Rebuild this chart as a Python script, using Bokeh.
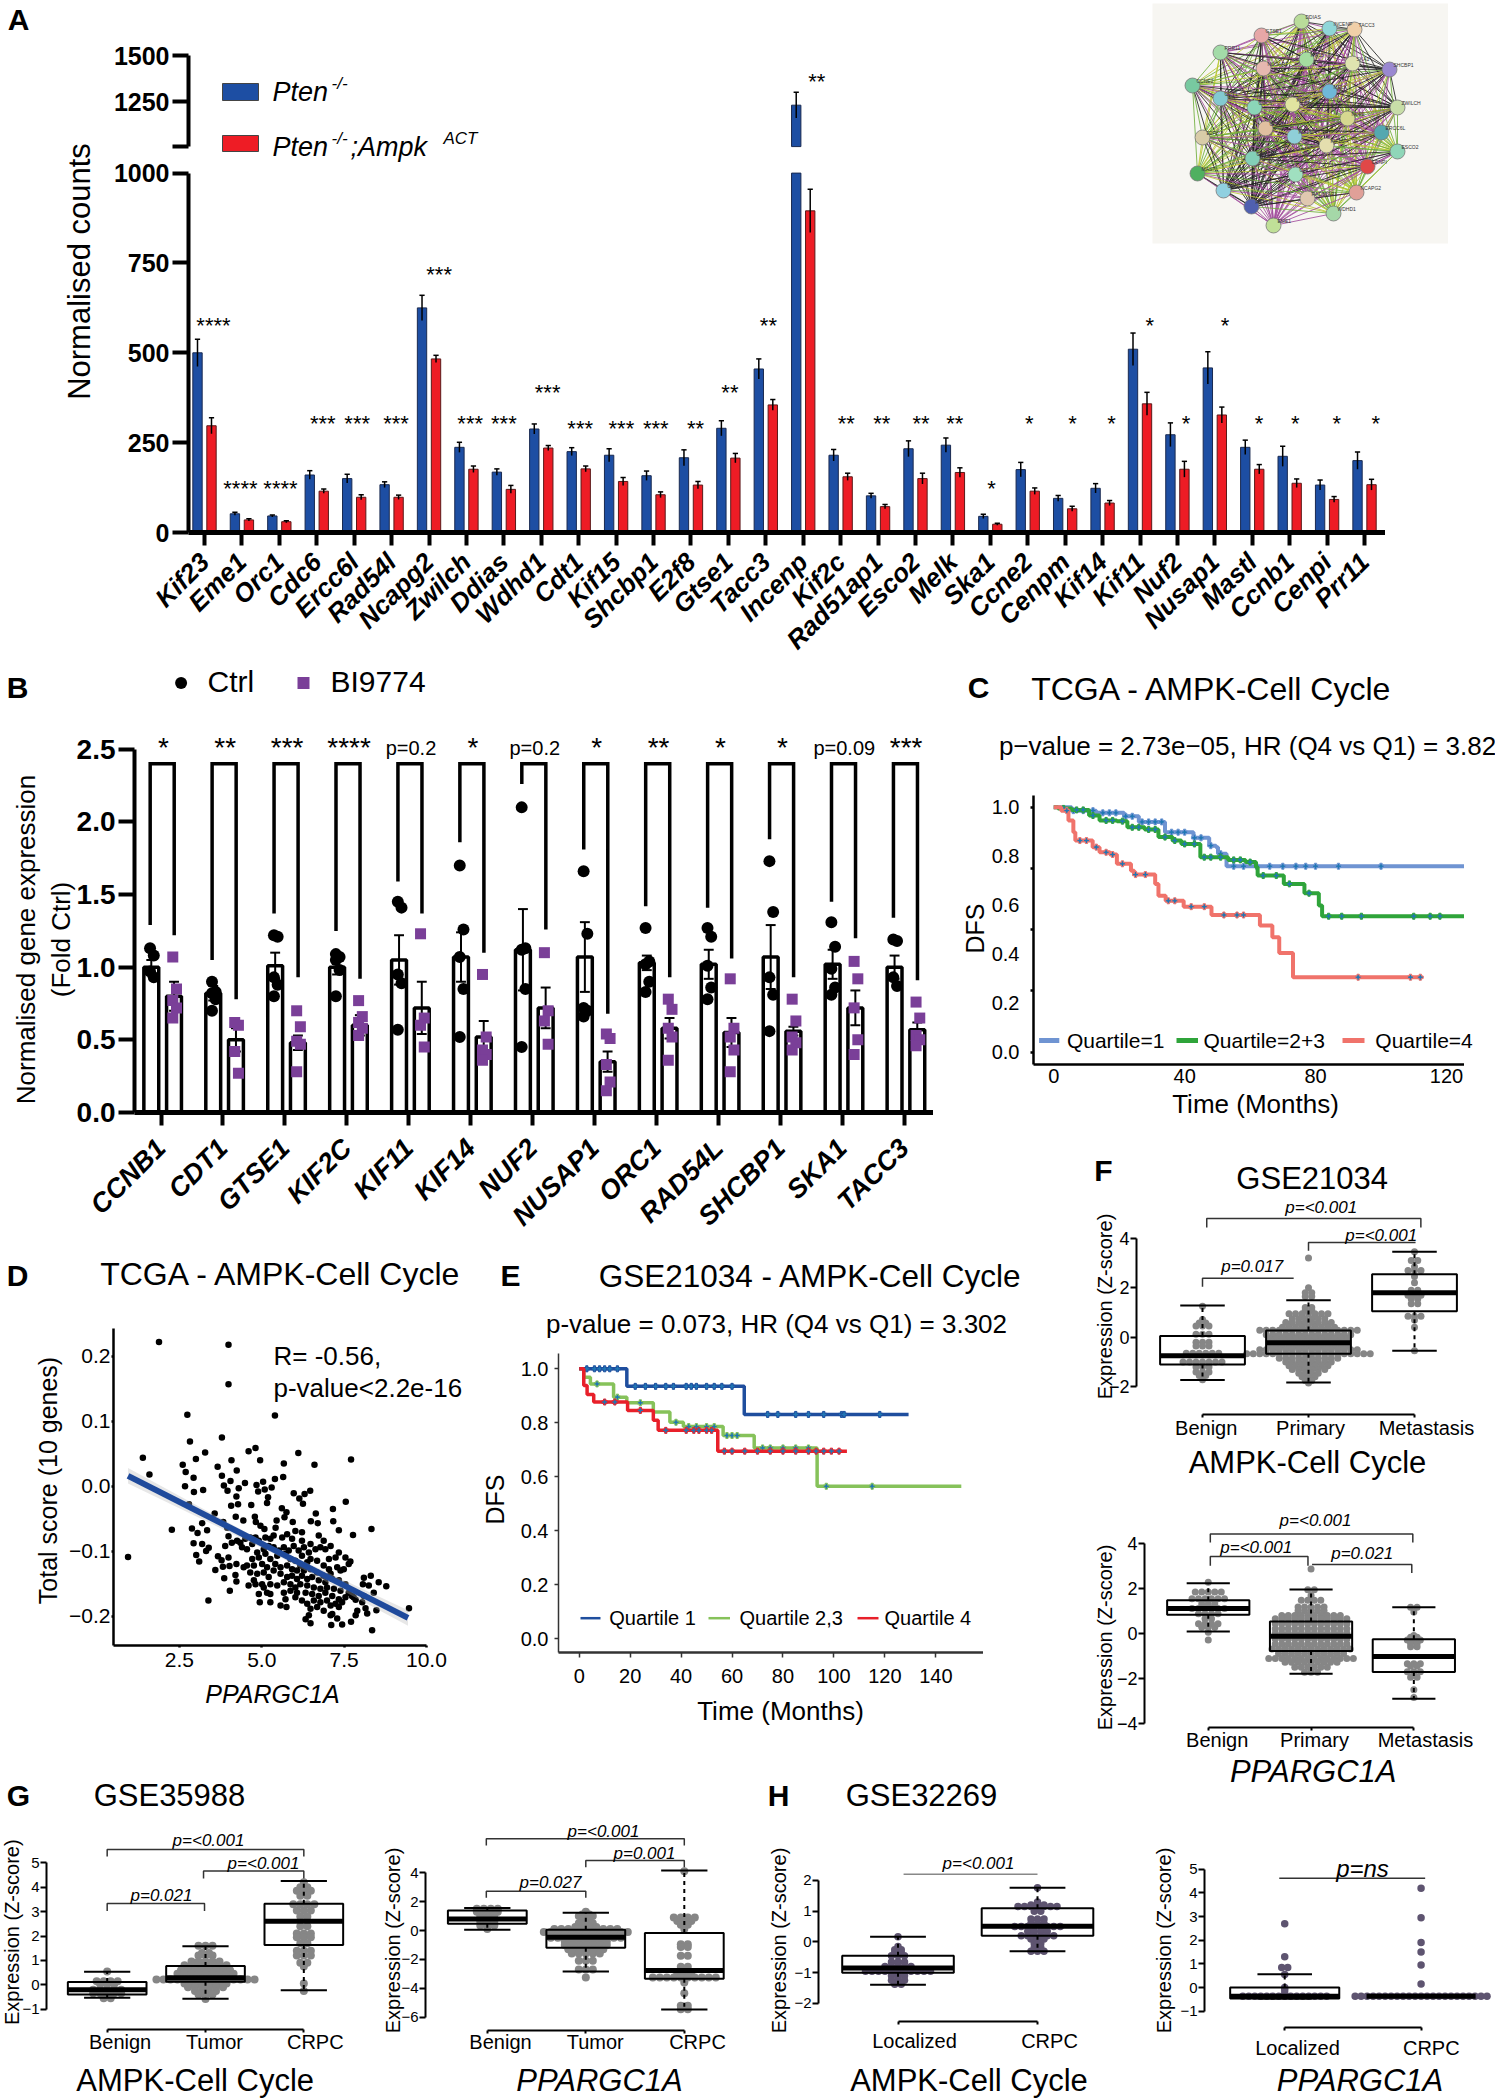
import math
from bokeh.plotting import figure
from bokeh.layouts import column
from bokeh.models import Range1d, LinearAxis, FixedTicker, Label, ColumnDataSource
from bokeh.core.properties import value
from bokeh.embed import file_html
from bokeh.resources import INLINE

FONT = "Liberation Sans"

# ---------------- Panel A data ----------------
genes_a = ["Kif23","Eme1","Orc1","Cdc6","Ercc6l","Rad54l","Ncapg2","Zwilch","Ddias","Wdhd1","Cdt1","Kif15","Shcbp1","E2f8","Gtse1","Tacc3","Incenp","Kif2c","Rad51ap1","Esco2","Melk","Ska1","Ccne2","Cenpm","Kif14","Kif11","Nuf2","Nusap1","Mastl","Ccnb1","Cenpi","Prr11"]
pten = [500,52,46,160,150,133,625,237,168,288,225,215,158,208,290,455,1230,215,102,233,243,45,175,95,123,510,272,458,237,212,132,200]
pten_err = [38,4,3,12,12,8,35,14,9,14,11,18,13,22,21,28,70,16,7,22,20,6,20,8,13,45,33,45,20,28,14,24]
ampk = [297,35,30,115,98,98,483,176,120,235,177,142,105,132,207,355,895,155,72,150,167,23,115,66,82,358,176,327,176,137,92,133]
ampk_err = [22,3,3,6,7,6,10,9,11,7,8,11,8,10,13,15,60,10,6,15,13,3,9,7,7,32,22,22,13,12,8,15]
stars_a = ["****","****","****","***","***","***","***","***","***","***","***","***","***","**","**","**","**","**","**","**","**","*","*","*","*","*","*","*","*","*","*","*"]
stars_a_x = [0.24,0.96,2.03,3.16,4.08,5.12,6.27,7.1,8.0,9.17,10.04,11.14,12.06,13.12,14.04,15.07,16.36,17.15,18.1,19.15,20.05,21.03,22.04,23.2,24.24,25.26,26.23,27.27,28.18,29.15,30.26,31.3]
stars_a_y = [589,137,137,316,316,316,732,316,316,404,304,304,304,304,404,589,1387,316,316,316,316,137,316,316,316,589,316,589,316,316,316,316]

# ---------------- Panel B data ----------------
genes_b = ["CCNB1","CDT1","GTSE1","KIF2C","KIF11","KIF14","NUF2","NUSAP1","ORC1","RAD54L","SHCBP1","SKA1","TACC3"]
ctrl_mean = [1.0,.82,1.01,1.0,1.05,1.07,1.12,1.07,1.03,1.02,1.07,1.02,1.0]
ctrl_err = [.05,.05,.09,.05,.17,.17,.28,.24,.05,.1,.22,.1,.08]
bi_mean = [.8,.5,.48,.6,.72,.52,.72,.35,.58,.55,.56,.72,.57]
bi_err = [.1,.08,.05,.07,.18,.11,.14,.07,.07,.1,.03,.12,.05]
ctrl_pts = [[1.13,1.08,.97,.93],[.90,.83,.82,.78,.70],[1.22,1.21,.93,.88,.80],[1.09,1.07,1.05,.98,.80],[1.45,1.41,.95,.89,.57],[1.70,1.26,1.07,.85,.52],[2.10,1.13,1.12,.85,.45],[1.66,1.23,.72,.70,.66],[1.27,1.04,1.02,.90,.83],[1.27,1.21,1.01,.86,.78],[1.73,1.38,.93,.81,.56],[1.31,1.14,.99,.86,.81],[1.19,1.18,.93,.87]]
bi_pts = [[1.07,.85,.77,.72,.65],[.62,.60,.42,.27],[.70,.59,.49,.47,.28],[.77,.66,.62,.58,.53],[1.23,.65,.60,.45],[.95,.52,.43,.40,.36],[1.10,.70,.63,.47],[.54,.51,.33,.21,.15],[.78,.71,.58,.52,.36],[.92,.58,.52,.43,.28],[.78,.63,.52,.48,.43],[1.04,.92,.72,.50,.40],[.76,.65,.53,.50,.46]]
leg_left = [1.29,1.05,1.37,1.25,1.59,1.86,2.26,1.81,1.42,1.41,1.88,1.45,1.34]
leg_right = [1.22,.78,.93,.92,1.37,1.10,1.26,.68,.93,1.06,.93,1.2,.91]
sig_b = ["*","**","***","****","p=0.2","*","p=0.2","*","**","*","*","p=0.09","***"]

# ---------------- Panel C data ----------------
c_q1_t = [0,5.5,13,21.5,26,34,42.7,47.5,49.6,50.2,52.8,126]
c_q1_s = [1,.986,.977,.963,.94,.898,.875,.843,.837,.81,.759,.759]
c_q2_t = [0,1.3,5.5,10.8,14,19.3,22.5,27.8,32,36.3,39,44.8,53.3,58.6,61.8,62.3,70.3,76.6,81,82,125.5]
c_q2_s = [1,.995,.989,.966,.946,.943,.918,.909,.878,.864,.85,.796,.785,.776,.755,.721,.687,.649,.599,.555,.555]
c_q4_t = [0,2.3,4.5,6,6.6,11.9,14,17.2,19.3,23.6,24.6,31,32,34.2,39.7,48.2,63,66.8,68.9,73.1,112.7]
c_q4_s = [1,.986,.946,.898,.864,.837,.816,.807,.769,.741,.725,.687,.639,.618,.594,.56,.517,.469,.405,.306,.306]
c_q1_cens = [6,9,12,15,17,19,22,24,27,29,31,33,36,38,40,43,45,48,51,55,58,62,66,70,74,77,80,87,100]
c_q2_cens = [3,7,9,12,16,18,21,24,26,29,31,34,37,40,43,46,48,51,55,57,60,64,68,72,78,84,88,94,110,115,118]
c_q4_cens = [4,8,10,13,16,18,21,25,28,35,37,42,46,52,56,58,93,109,112]

# ---------------- Panel D data ----------------
score_pairs = [(1.88,.222),(3.99,.218),(3.99,.157),(2.74,.110),(5.4,.109),(3.79,.075),(2.82,.069),(1.39,.044),(3.28,.052),(3.0,.042),(4.6,.054),(4.81,.059),(4.95,.04),(4.08,.04),(6.11,.051),(7.71,.041),(5.67,.035),(6.6,.033),(2.6,.033),(3.66,.03),(1.59,.018),(2.69,.022),(2.93,.013),(4.24,.024),(3.79,.016),(4.05,.008),(4.49,.005),(5.4,.011),(5.65,.014),(5.04,.007),(4.84,.002),(5.3,-.002),(5.09,-.005),(4.89,-.008),(2.67,0),(2.94,-.009),(3.22,-.006),(3.85,.001),(3.96,-.007),(4.3,-.003),(4.23,-.016),(5.19,-.017),(5.16,-.026),(5.97,-.011),(6.47,-.007),(6.3,-.012),(6.14,-.019),(6.25,-.027),(7.55,-.024),(2.79,-.028),(4.07,-.03),(4.28,-.028),(4.68,-.029),(5.61,-.034),(5.75,-.04),(7.16,-.035),(3.57,-.042),(4.21,-.047),(4.79,-.047),(6.64,-.042),(3.19,-.057),(3.83,-.055),(4.44,-.053),(4.82,-.055),(5.45,-.053),(5.69,-.048),(5.94,-.055),(6.49,-.054),(6.7,-.057),(7.17,-.054),(2.27,-.067),(2.88,-.065),(3.34,-.068),(3.95,-.064),(3.05,-.072),(4.96,-.061),(5.08,-.066),(5.42,-.064),(7.34,-.068),(8.33,-.066),(7.77,-.075),(2.93,-.088),(3.19,-.089),(3.89,-.092),(3.99,-.077),(4.09,-.087),(4.25,-.084),(3.39,-.095),(3.31,-.1),(.94,-.109),(3.01,-.106),(3.1,-.116),(3.67,-.108),(3.78,-.114),(3.99,-.11),(3.59,-.129),(3.82,-.124),(4.02,-.123),(4.23,-.12),(3.86,-.142),(4.2,-.137),(4.23,-.147),(4.03,-.161),(3.38,-.176),
(4.35,-.087),(4.5,-.081),(4.65,-.079),(4.81,-.079),(4.91,-.084),(5.11,-.079),(5.26,-.081),(5.36,-.076),(5.62,-.079),(5.77,-.074),(5.92,-.081),(6.02,-.069),(6.22,-.071),(6.22,-.084),(6.48,-.089),(6.73,-.076),(6.88,-.084),(6.78,-.094),(6.93,-.097),(4.4,-.094),(4.55,-.097),(4.71,-.089),(4.86,-.102),(5.06,-.097),(5.21,-.092),(5.36,-.094),(5.52,-.099),(5.67,-.094),(5.82,-.099),(5.97,-.092),(6.12,-.099),(6.28,-.094),(6.43,-.102),(6.63,-.097),(7.09,-.092),(7.04,-.112),(7.34,-.102),(7.24,-.11),(7.54,-.11),(7.69,-.116),(7.49,-.128),(7.39,-.13),(7.64,-.12),(7.29,-.125),(6.88,-.122),(7.04,-.128),(6.48,-.112),(6.22,-.107),(4.71,-.112),(4.91,-.11),(5.11,-.104),(5.26,-.112),(5.47,-.107),(5.72,-.104),(5.87,-.112),(6.02,-.115),(6.17,-.122),(6.38,-.117),(6.68,-.115),(4.55,-.122),(4.76,-.122),(5.01,-.12),(5.16,-.125),(5.41,-.12),(5.57,-.125),(5.77,-.122),(5.92,-.128),(6.07,-.13),(6.28,-.13),(6.48,-.128),(6.68,-.133),(6.88,-.138),(7.09,-.135),(4.45,-.125),(4.65,-.133),(4.86,-.135),(5.06,-.133),(5.21,-.14),(5.36,-.13),(5.57,-.135),(5.77,-.14),(5.92,-.138),(6.07,-.143),(6.22,-.138),(6.38,-.143),(6.53,-.14),(6.73,-.145),(6.93,-.148),(7.14,-.143),(7.34,-.145),(7.54,-.151),(4.76,-.145),(5.01,-.151),(4.6,-.153),(4.81,-.151),(5.26,-.151),(5.47,-.153),(5.67,-.148),(5.87,-.151),(6.02,-.156),(6.17,-.151),(6.38,-.153),(6.58,-.156),(6.78,-.158),(6.98,-.156),(7.19,-.158),(7.39,-.161),(7.64,-.164),(5.06,-.156),(5.26,-.166),(4.91,-.166),(5.16,-.164),(5.67,-.164),(5.87,-.161),(6.07,-.164),(6.33,-.164),(6.53,-.166),(6.73,-.169),(6.93,-.164),(7.14,-.169),(7.34,-.174),(7.54,-.171),(7.74,-.169),(4.94,-.179),(5.26,-.179),(5.57,-.184),(5.75,-.186),(5.72,-.174),(6.02,-.171),(6.22,-.176),(6.38,-.181),(6.58,-.176),(6.78,-.179),(6.98,-.176),(7.24,-.181),(7.44,-.179),(6.48,-.189),(6.68,-.186),(6.88,-.192),(7.09,-.184),(7.34,-.186),(6.43,-.199),(6.33,-.205),(6.48,-.211),(7.09,-.199),(7.14,-.197),(7.29,-.204),(7.11,-.214),(7.44,-.213),(7.71,-.209),(7.85,-.199),(7.9,-.192),(7.85,-.175),(8.15,-.188),(8.2,-.196),(8.48,-.191),(8.78,-.154),(9.47,-.188),(8.35,-.222),(8.1,-.141),(8.31,-.138),(8.25,-.153),(8.07,-.151),(8.55,-.148),(8.4,-.164),(8.1,-.169),(7.79,-.171),(8.05,-.179)]
fit_x = [.94,9.44]
fit_y = [.016,-.203]

# ---------------- Panel E data ----------------
e_q1_t = [0,18.7,64.8,129.3]
e_q1_s = [1,.935,.831,.831]
e_q2_t = [0,1.8,4.4,13.5,18.7,29.1,35.6,40.9,56.5,68.7,93.4,150]
e_q2_s = [1,.969,.944,.895,.874,.84,.802,.786,.753,.707,.565,.565]
e_q4_t = [0,1.8,3.1,5.7,19,29.1,31,54.4,105.1]
e_q4_s = [1,.938,.905,.877,.846,.809,.772,.695,.695]
e_q1_cens = [3,6,8,10,12,15,22,26,30,34,37,42,44,46,50,53,56,60,74,78,85,90,96,103,104,118]
e_q2_cens = [7,15,24,38,43,46,50,53,58,60,62,72,75,80,85,90,97,115]
e_q4_cens = [10,14,24,34,42,45,47,50,52,57,60,65,70,75,80,85,90,93,96,99,102]

# ---------------- Panels F, G, H data: rows are (value, number of dots at that value) ----------------
f1_groups = ["Benign","Primary","Metastasis"]
f1_box = [(-1.1,-.75,.05,-1.73,1.28),(-.67,-.22,.27,-1.83,1.5),(1.05,1.8,2.55,-.55,3.45)]
f1_rows = [[(1.25,1),(.72,1),(.58,2),(.45,3),(.12,3),(-.2,3),(-.35,3),(-.65,6),(-1.0,7),(-1.2,3),(-1.4,3),(-1.55,2),(-1.72,1)],
           [(3.2,1),(2.0,1),(1.8,2),(1.65,2),(1.2,2),(1.1,2),(.95,7),(.75,6),(.6,8),(.4,9),(.28,16),(.1,14),(-.05,13),(-.2,12),(-.35,13),(-.5,16),(-.67,20),(-.85,10),(-1.0,8),(-1.15,7),(-1.3,6),(-1.45,4),(-1.6,3),(-1.75,2),(-1.85,1)],
           [(3.45,1),(3.1,2),(2.85,1),(2.7,3),(2.45,1),(2.2,1),(1.9,2),(1.7,3),(1.55,2),(1.35,2),(.85,3),(.7,1),(.4,1),(-.55,1)]]
f2_box = [(.82,1.1,1.47,.08,2.22),(-.78,-.13,.52,-1.79,1.94),(-1.72,-1.03,-.26,-2.9,1.15)]
f2_rows = [[(2.26,1),(1.83,5),(1.53,6),(1.3,3),(1.1,6),(.87,4),(.64,2),(.42,4),(.27,3),(.05,1),(-.3,1)],
           [(2.85,1),(1.93,2),(1.68,1),(1.47,4),(1.17,5),(1.0,5),(.79,10),(.64,12),(.42,12),(.2,12),(0,12),(-.25,12),(-.47,12),(-.7,13),(-.9,11),(-1.12,14),(-1.28,9),(-1.5,6),(-1.73,3)],
           [(1.15,2),(.95,1),(-.1,1),(-.18,2),(-.3,3),(-.45,2),(-.6,2),(-1.35,3),(-1.45,2),(-1.7,3),(-1.85,1),(-1.95,2),(-2.5,1),(-2.85,1)]]
g_groups = ["Benign","Tumor","CRPC"]
g1_box = [(-.4,-.2,.11,-.53,.53),(.12,.29,.77,-.57,1.58),(1.63,2.6,3.32,-.22,4.25)]
g1_rows = [[(.55,1),(.15,4),(.02,3),(-.2,5),(-.35,5),(-.45,2),(-.55,2)],
           [(1.6,3),(1.3,2),(1.2,3),(.95,5),(.8,7),(.6,8),(.45,9),(.22,15),(.05,7),(-.1,6),(-.25,4),(-.4,3),(-.58,1)],
           [(4.2,1),(4.0,2),(3.85,3),(3.65,2),(3.3,4),(3.05,3),(2.8,2),(2.4,2),(2.1,3),(1.95,3),(1.7,2),(1.4,3),(1.2,3),(.9,2),(.75,1),(.05,1),(-.25,1)]]
g2_box = [(.46,.8,1.38,.05,1.55),(-1.2,-.46,.05,-2.83,1.22),(-3.34,-2.76,-.18,-5.46,4.15)]
g2_rows = [[(1.5,4),(1.3,4),(1.05,3),(.85,3),(.6,3),(.35,3),(.1,1)],
           [(1.3,1),(1.1,2),(1.0,3),(.75,2),(.5,3),(.25,4),(.1,10),(-.1,13),(-.3,11),(-.5,11),(-.75,7),(-1.0,7),(-1.3,6),(-1.6,5),(-2.1,3),(-2.7,3),(-3.25,1)],
           [(4.1,1),(.9,4),(.65,3),(.4,2),(.1,1),(-.95,2),(-1.15,2),(-1.75,2),(-2.5,2),(-3.0,3),(-3.25,10),(-3.6,1),(-4.35,1),(-5.2,2),(-5.45,2)]]
h_groups = ["Localized","CRPC"]
h1_box = [(-1,-.85,-.45,-1.39,.17),(.2,.51,1.1,-.3,1.76)]
h1_rows = [[(.17,1),(-.15,1),(-.25,2),(-.35,2),(-.45,3),(-.65,3),(-.8,5),(-.95,11),(-1.1,3),(-1.25,3),(-1.38,2)],
           [(1.76,1),(1.3,1),(1.2,3),(1.15,7),(1.0,2),(.75,3),(.6,3),(.5,8),(.35,4),(.2,6),(.1,3),(-.05,2),(-.18,2),(-.3,3)]]
h2_box = [(-.46,-.37,0,-.46,.56),(-.37,-.37,-.37,-.37,-.37)]
h2_rows = [[(2.7,1),(1.3,1),(.85,2),(.55,1),(0,1),(-.1,1),(-.25,1),(-.37,15)],
           [(4.2,1),(2.95,1),(1.9,1),(1.5,1),(.95,1),(.15,1),(-.37,23)]]

# String network (inset of panel A): node label, x, y on the picture, colour
net_nodes = [("DDIAS",1301,21,"#b9dc9a"),("INCENP",1329,28,"#8fd6d8"),("TACC3",1354,29,"#f0cfa8"),("GTSE1",1261,35,"#e6a7a7"),("PRR11",1220,52,"#a3dba8"),("KIF15",1306,59,"#a5dca0"),("NUSAP1",1263,68,"#e6b8b0"),("SKA1",1352,63,"#dfe3b0"),("SHCBP1",1389,69,"#9a88d0"),("CCNE2",1192,85,"#78c9a0"),("MELK",1329,91,"#6fb8d8"),("CDT1",1220,98,"#83c9d0"),("CDC6",1254,107,"#8bd6b8"),("KIF23",1292,104,"#e0e4a0"),("ZWILCH",1397,107,"#c8dea8"),("NUF2",1347,118,"#d6d890"),("ERCC6L",1381,132,"#55a8b0"),("CCNB1",1265,128,"#e0c0a0"),("E2F8",1202,137,"#d8cca8"),("KIF11",1294,136,"#8fcfd8"),("KIF2C",1326,145,"#e4deae"),("ESCO2",1397,151,"#8fd6b8"),("CENPI",1367,166,"#e04848"),("CENPM",1252,158,"#83cfb8"),("MASTL",1197,173,"#4fb060"),("ORC1",1295,174,"#a0e0c0"),("CCNF",1223,190,"#90d0e0"),("NCAPG2",1356,192,"#e0a098"),("RAD51AP1",1307,198,"#e0c8b0"),("RAD54L",1251,206,"#5060b0"),("WDHD1",1333,213,"#a5d8a8"),("EME1",1273,225,"#c0e098")]
net_edge_colors = ["#b8c832","#a24d9e","#222222","#6fae3c","#a24d9e","#222222"]

figs = []
PT, PR, PB, PL = 20, 0, 170, 110   # every panel has the same borders, as a column lines up plot frames

def panel(x0, x1, y0, y1, xr, yr):
    x0, x1, y0, y1 = round(x0), round(x1), round(y0), round(y1)
    fw, fh = x1 - x0, y1 - y0
    top = y0 - PT
    left = x0 - PL
    total_h = fh + PT + PB
    f = figure(frame_width=fw, frame_height=fh, x_range=Range1d(*xr), y_range=Range1d(*yr),
               toolbar_location=None, output_backend="svg", x_axis_location=None, y_axis_location=None,
               min_border_left=PL, min_border_right=PR, min_border_top=PT, min_border_bottom=PB,
               background_fill_color=None, border_fill_color=None, outline_line_color=None,
               margin=(top, 0, -(top + total_h), left))
    f.xgrid.visible = False
    f.ygrid.visible = False
    figs.append(f)
    return f

def axis(f, side, ticks, overrides=None, bounds=None, size=20, style="normal", lw=2, tlen=5, tw=None,
         standoff=2, color="black", orientation=None, minor=None, minor_len=0):
    ax = LinearAxis(ticker=FixedTicker(ticks=list(ticks), minor_ticks=list(minor or [])))
    ax.axis_line_width = lw
    ax.axis_line_color = color
    ax.major_tick_line_color = color
    ax.major_tick_line_width = tw if tw is not None else lw
    ax.major_tick_out = tlen
    ax.major_tick_in = 0
    ax.minor_tick_out = minor_len
    ax.minor_tick_in = 0
    ax.minor_tick_line_width = lw
    ax.minor_tick_line_color = color if minor else None
    ax.major_label_text_font = FONT
    ax.major_label_text_font_size = f"{size}px"
    ax.major_label_text_font_style = style
    ax.major_label_standoff = standoff
    ax.major_label_text_color = "black"
    if overrides:
        ax.major_label_overrides = overrides
    if bounds:
        ax.bounds = bounds
    if orientation is not None:
        ax.major_label_orientation = orientation
    f.add_layout(ax, side)
    return ax

# ---------- Inset network ----------
p_net = panel(1152, 1448, 3, 243, (1152, 1448), (243, 3))
p_net.background_fill_color = "#f7f6f2"
ex0, ey0, ex1, ey1, ec = [], [], [], [], []
for i, a in enumerate(net_nodes):
    for j, b in enumerate(net_nodes):
        if j > i:
            ex0.append(a[1]); ey0.append(a[2]); ex1.append(b[1]); ey1.append(b[2])
            ec.append(net_edge_colors[(i * 3 + j) % len(net_edge_colors)])
p_net.segment(ex0, ey0, ex1, ey1, line_color=ec, line_width=1.0, line_alpha=0.85)
p_net.scatter([n[1] for n in net_nodes], [n[2] for n in net_nodes], size=15,
              fill_color=[n[3] for n in net_nodes], line_color="#777777", line_width=0.8)
p_net.text([n[1] + 4 for n in net_nodes], [n[2] - 5 for n in net_nodes], [n[0] for n in net_nodes],
           text_font=value(FONT), text_font_size="5px", text_color="#333333", text_baseline="middle")

# ---------- Panel A ----------
A_L, A_R, A_T, A_B = 188, 1385, 55, 532
a_x = ((A_L - 204) / 37.42, (A_R - 204) / 37.42)
a_low = (0, (A_B - A_T) / 0.3594)
a_up = (1500 - (A_B - A_T) / 0.184, 1500)
BLUE, RED = "#1d4ea3", "#ee1c25"
W, D = 0.25, 0.187
idx = list(range(len(genes_a)))

pa_up = panel(A_L, A_R, A_T, A_B, a_x, a_up)
axis(pa_up, "left", [1005, 1250, 1500], {1005: "", 1250: "1250", 1500: "1500"}, bounds=(1005, 1500),
     size=25, style="bold", lw=4, tlen=16, tw=4, standoff=3)
tall = [i for i in idx if pten[i] > 1005]
pa_up.vbar([i - D for i in tall], W, bottom=1005, top=[pten[i] for i in tall], fill_color=BLUE, line_color="#1a2a50", line_width=1)
pa_up.segment([i - D for i in tall], [pten[i] - pten_err[i] for i in tall], [i - D for i in tall], [pten[i] + pten_err[i] for i in tall], line_color="black", line_width=1.5)
pa_up.segment([i - D - .07 for i in tall], [pten[i] + pten_err[i] for i in tall], [i - D + .07 for i in tall], [pten[i] + pten_err[i] for i in tall], line_color="black", line_width=1.5)
pa_up.text([16.36], [1387], ["**"], text_font=value(FONT), text_font_size="22px", text_align="center", text_baseline="middle", y_offset=5)

pa = panel(A_L, A_R, A_T, A_B, a_x, a_low)
axis(pa, "left", [0, 250, 500, 750, 1000], {0: "0", 250: "250", 500: "500", 750: "750", 1000: "1000"}, bounds=(0, 1000),
     size=25, style="bold", lw=4, tlen=16, tw=4, standoff=3)
axis(pa, "below", idx, {i: g for i, g in enumerate(genes_a)}, size=26, style="bold italic", lw=5, tlen=13, tw=4,
     standoff=12, orientation=math.pi / 4)
pa.vbar([i - D for i in idx], W, bottom=0, top=[min(v, 1000) for v in pten], fill_color=BLUE, line_color="#1a2a50", line_width=1)
pa.vbar([i + D for i in idx], W, bottom=0, top=ampk, fill_color=RED, line_color="#5a1a1a", line_width=1)
low = [i for i in idx if pten[i] <= 1000]
for xs, vs, es, ii in (([i - D for i in low], pten, pten_err, low), ([i + D for i in idx], ampk, ampk_err, idx)):
    pa.segment(xs, [vs[i] - es[i] for i in ii], xs, [vs[i] + es[i] for i in ii], line_color="black", line_width=1.5)
    pa.segment([x - .07 for x in xs], [vs[i] + es[i] for i in ii], [x + .07 for x in xs], [vs[i] + es[i] for i in ii], line_color="black", line_width=1.5)
keep = [k for k in idx if stars_a_y[k] <= 1000]
pa.text([stars_a_x[k] for k in keep], [stars_a_y[k] for k in keep], [stars_a[k] for k in keep],
        text_font=value(FONT), text_font_size="22px", text_align="center", text_baseline="middle", y_offset=5)

# ---------- Panel B ----------
B_L, B_R, B_T, B_B = 134.5, 933, 720, 1112
b_step = 61.9
pb = panel(B_L, B_R, B_T, B_B, ((B_L - 161) / b_step, (B_R - 161) / b_step), (0, (B_B - B_T) / 145.3))
axis(pb, "left", [0, .5, 1, 1.5, 2, 2.5], {0: "0.0", .5: "0.5", 1: "1.0", 1.5: "1.5", 2: "2.0", 2.5: "2.5"}, bounds=(0, 2.5),
     size=28, style="bold", lw=4, tlen=16, tw=4, standoff=3)
ib = list(range(len(genes_b)))
axis(pb, "below", ib, {i: g for i, g in enumerate(genes_b)}, size=27, style="bold italic", lw=5, tlen=13, tw=4, standoff=18, orientation=math.pi / 4)
OFF_C, OFF_B = -0.157, 0.21
BW = 0.24
PURPLE = "#7a3f98"
for off, mean, err in ((OFF_C, ctrl_mean, ctrl_err), (OFF_B, bi_mean, bi_err)):
    xs = [i + off for i in ib]
    pb.vbar(xs, BW, bottom=0, top=mean, fill_color=None, line_color="black", line_width=3.5)
    pb.segment(xs, [m - e for m, e in zip(mean, err)], xs, [m + e for m, e in zip(mean, err)], line_color="black", line_width=2)
    pb.segment([x - .08 for x in xs], [m + e for m, e in zip(mean, err)], [x + .08 for x in xs], [m + e for m, e in zip(mean, err)], line_color="black", line_width=2)
    pb.segment([x - .08 for x in xs], [m - e for m, e in zip(mean, err)], [x + .08 for x in xs], [m - e for m, e in zip(mean, err)], line_color="black", line_width=2)
cx, cy, bx, by = [], [], [], []
for i in ib:
    for k, v in enumerate(ctrl_pts[i]):
        cx.append(i + OFF_C + (.04 if k % 2 else -.02)); cy.append(v)
    for k, v in enumerate(bi_pts[i]):
        bx.append(i + OFF_B + (.04 if k % 2 else -.02)); by.append(v)
pb.scatter(cx, cy, size=12, marker="circle", fill_color="black", line_color=None)
pb.scatter(bx, by, size=11, marker="square", fill_color=PURPLE, line_color=None)
xsl, ysl = [], []
for i in ib:
    xsl.append([i - .175, i - .175, i + .213, i + .213]); ysl.append([leg_left[i], 2.40, 2.40, leg_right[i]])
pb.multi_line(xsl, ysl, line_color="black", line_width=3.5, line_join="miter")

# ---------- Panel C ----------
C_L, C_R, C_T, C_B = 1033.4, 1464, 795, 1064
cy0, cu = 1051.7, 245.0  # pixel of DFS 0 and pixels per unit
cx0, cm = 1053.6, 3.27
pc = panel(C_L, C_R, C_T, C_B, ((C_L - cx0) / cm, (C_R - cx0) / cm), ((cy0 - C_B) / cu, (cy0 - C_T) / cu))
axis(pc, "left", [0, .2, .4, .6, .8, 1], {0: "0.0", .2: "0.2", .4: "0.4", .6: "0.6", .8: "0.8", 1: "1.0"}, size=20, lw=2.5, tlen=0, standoff=11, minor=[0, .25, .5, .75, 1], minor_len=3)
axis(pc, "below", [0, 40, 80, 120], {0: "0", 40: "40", 80: "80", 120: "120"}, size=20, lw=2.5, tlen=0, standoff=4)

def km(f, t, s, cens, color, width):
    f.step(t, s, mode="after", line_color=color, line_width=width)
    ys = []
    for c in cens:
        v = s[0]
        for a, b in zip(t, s):
            if a <= c:
                v = b
        ys.append(v)
    f.scatter(cens, ys, marker="plus", size=6, line_color=color, line_width=1)

C1, C2, C3 = "#6f94d2", "#2fa43a", "#f0736b"
km(pc, c_q1_t, c_q1_s, c_q1_cens, C1, 4)
km(pc, c_q2_t, c_q2_s, c_q2_cens, C2, 4)
km(pc, c_q4_t, c_q4_s, c_q4_cens, C3, 4)

# ---------- Panel D ----------
D_L, D_R, D_T, D_B = 113.4, 460, 1328, 1645
dy0, du = 1485.7, 649.0
dx0, dm = 97.0, 32.9
pd = panel(D_L, D_R, D_T, D_B, ((D_L - dx0) / dm, (D_R - dx0) / dm), ((dy0 - D_B) / du, (dy0 - D_T) / du))
axis(pd, "left", [-.2, -.1, 0, .1, .2], {-.2: "\u22120.2", -.1: "\u22120.1", 0: "0.0", .1: "0.1", .2: "0.2"}, size=21, lw=2.5, tlen=2, standoff=1)
axis(pd, "below", [2.5, 5, 7.5, 10], {2.5: "2.5", 5: "5.0", 7.5: "7.5", 10: "10.0"}, bounds=((D_L - dx0) / dm, 10), size=21, lw=2.5, tlen=2, standoff=5)
pd.scatter([p[0] for p in score_pairs], [p[1] for p in score_pairs], size=6.5, fill_color="black", line_color=None)
pd.varea([fit_x[0], 5.4, fit_x[1]], [fit_y[0] - .012, -.1 - .005, fit_y[1] - .012], [fit_y[0] + .012, -.1 + .005, fit_y[1] + .012], fill_color="#bbbbbb", fill_alpha=0.35)
pd.line(fit_x, fit_y, line_color="#1f4a9c", line_width=6)

# ---------- Panel E ----------
E_L, E_R, E_T, E_B = 558.3, 983.4, 1353, 1652
ey00, eu = 1638.3, 270.0
ex00, em = 579.0, 2.548
pe = panel(E_L, E_R, E_T, E_B, ((E_L - ex00) / em, (E_R - ex00) / em), ((ey00 - E_B) / eu, (ey00 - E_T) / eu))
axis(pe, "left", [0, .2, .4, .6, .8, 1], {0: "0.0", .2: "0.2", .4: "0.4", .6: "0.6", .8: "0.8", 1: "1.0"}, size=20, lw=1.5, tlen=4, standoff=6, color="#333333")
axis(pe, "below", list(range(0, 141, 20)), {v: str(v) for v in range(0, 141, 20)}, size=20, lw=2.5, tlen=5, tw=1.5, standoff=11, color="#333333")
E1, E2, E3 = "#1f4e9e", "#86c25a", "#e8202a"
km(pe, e_q2_t, e_q2_s, e_q2_cens, E2, 3.5)
km(pe, e_q1_t, e_q1_s, e_q1_cens, E1, 3.5)
km(pe, e_q4_t, e_q4_s, e_q4_cens, E3, 3.5)

# ---------- Box + swarm panels ----------
def box_panel(ax_x, right, top, bottom, y0, u, c1, step, yticks, box, rows, brackets, dot, dot_color, sp, cap, tick_size, box_w=0.8):
    xlo = 1 + (ax_x - c1) / step
    xhi = 1 + (right - c1) / step
    f = panel(ax_x, right, top, bottom, (xlo, xhi), ((y0 - bottom) / u, (y0 - top) / u))
    ov = {t: (f"\u2212{abs(t)}" if t < 0 else str(t)) for t in yticks}
    axis(f, "left", yticks, ov, bounds=(min(yticks), max(yticks)), size=tick_size, lw=2, tlen=6, standoff=1)
    n = len(box)
    axis(f, "below", list(range(1, n + 1)), {i: "" for i in range(1, n + 1)}, bounds=(1, n), size=2, lw=2, tlen=3, standoff=0)
    dx, dy = [], []
    for g, rr in enumerate(rows):
        for v, k in rr:
            for j in range(k):
                dx.append(g + 1 + (j - (k - 1) / 2) * sp / step)
                dy.append(v)
    f.scatter(dx, dy, size=dot, fill_color=dot_color, line_color=None)
    xs = list(range(1, n + 1))
    q1, med, q3, lo, hi = zip(*box)
    f.segment(xs, q3, xs, hi, line_color="black", line_width=2, line_dash="4 4")
    f.segment(xs, q1, xs, lo, line_color="black", line_width=2, line_dash="4 4")
    capx0 = [x - cap for x in xs]
    capx1 = [x + cap for x in xs]
    f.segment(capx0, hi, capx1, hi, line_color="black", line_width=2)
    f.segment(capx0, lo, capx1, lo, line_color="black", line_width=2)
    bx = [i for i in range(n) if q3[i] != q1[i]]
    f.quad(left=[xs[i] - box_w / 2 for i in bx], right=[xs[i] + box_w / 2 for i in bx], bottom=[q1[i] for i in bx], top=[q3[i] for i in bx],
           fill_color=None, line_color="black", line_width=2)
    f.segment([x - box_w / 2 for x in xs], med, [x + box_w / 2 for x in xs], med, line_color="black", line_width=5)
    for (x0, x1, yy, l0, l1, col) in brackets:
        f.line([x0, x0, x1, x1], [l0, yy, yy, l1], line_color=col, line_width=1.5)
    return f

BK = "#333333"
box_panel(1136, 1480, 1205, 1413.6, 1336.5, 24.7, 1202, 106, [-2, 0, 2, 4], f1_box, f1_rows,
          [(1.04, 3.06, 4.80, 4.43, 4.43, BK), (2.0, 3.01, 3.83, 3.50, 3.83, BK), (1.0, 1.86, 2.38, 2.04, 2.38, BK)],
          7, "#868686", 6.5, .21, 18)
box_panel(1144.3, 1480, 1525, 1727, 1632.8, 22.55, 1208, 102.7, [-4, -2, 0, 2, 4], f2_box, f2_rows,
          [(1.02, 2.99, 4.40, 4.03, 4.03, BK), (1.02, 1.97, 3.41, 3.0, 3.0, BK), (2.01, 2.98, 3.05, 3.05, 2.67, BK)],
          7, "#868686", 6.5, .21, 18)
box_panel(46.4, 360, 1830, 2029, 1984.3, 24.4, 107, 98.2, [-1, 0, 1, 2, 3, 4, 5], g1_box, g1_rows,
          [(1, 3.0, 5.55, 5.26, 5.26, BK), (1.98, 3.0, 4.66, 4.36, 4.36, BK), (1, 1.99, 3.33, 3.02, 3.02, BK)],
          8, "#868686", 7, .235, 15)
box_panel(425, 740, 1830, 2030, 1930, 14.45, 486.8, 98.5, [-6, -4, -2, 0, 2, 4], g2_box, g2_rows,
          [(.99, 3.0, 6.35, 5.88, 5.88, BK), (2.0, 3.0, 4.84, 4.38, 4.38, BK), (.99, 2.0, 2.72, 2.26, 2.26, BK)],
          8, "#868686", 7, .235, 15)
box_panel(818, 1110, 1862, 2020.7, 1941.3, 30.67, 897.5, 139.5, [-2, -1, 0, 1, 2], h1_box, h1_rows,
          [(1.04, 2.0, 2.2, 2.2, 2.2, "#888888")], 7.5, "#5e5470", 6.5, .2, 15)
box_panel(1203.7, 1495, 1862, 2027.3, 1987.3, 23.7, 1284, 136.5, [-1, 0, 1, 2, 3, 4, 5], h2_box, h2_rows,
          [(.96, 2.03, 4.62, 4.62, 4.62, BK)], 7.5, "#5e5470", 6.0, .2, 15)

# ---------- Page-wide layers for titles, axis titles and legends ----------
def layer(x0, x1, bottom_net):
    f = figure(frame_width=x1 - x0, frame_height=2100, x_range=Range1d(x0, x1), y_range=Range1d(2100, 0),
               toolbar_location=None, output_backend="svg", x_axis_location=None, y_axis_location=None,
               min_border_left=PL, min_border_right=PR, min_border_top=0, min_border_bottom=0,
               background_fill_color=None, border_fill_color=None, outline_line_color=None,
               margin=(0, 0, bottom_net, x0 - PL))
    f.xgrid.visible = False
    f.ygrid.visible = False
    return f

ov_left = layer(0, 700, -2100)   # left half of the page: its frame reaches the page edge
ov = layer(PL, 1495, 0)          # the rest of the page
figs.append(ov_left)

def T(x, y, text, size, style="normal", angle=0, align="center", color="black"):
    target = ov_left if x < 500 else ov
    target.add_layout(Label(x=x, y=y, text=text, text_font=FONT, text_font_size=f"{size}px", text_font_style=style,
                            text_align=align, text_baseline="middle", angle=angle, angle_units="deg", text_color=color))

# panel letters
for ch, x, y in [("A", 18, 19), ("B", 17, 687), ("C", 978, 687), ("D", 17, 1275), ("E", 510, 1275), ("F", 1103, 1170), ("G", 18, 1795), ("H", 778, 1795)]:
    T(x, y, ch, 30, "bold")

# A
ov.quad(left=[222, 222], right=[258, 258], top=[83, 135], bottom=[100, 151], fill_color=[BLUE, RED], line_color="#444444", line_width=1)
T(272, 91, "Pten", 27, "italic", align="left")
T(331, 83, "-/-", 17, "italic", align="left")
T(272, 146, "Pten", 27, "italic", align="left")
T(331, 138, "-/-", 17, "italic", align="left")
T(350, 146, ";Ampk", 27, "italic", align="left")
T(443, 138, "ACT", 17, "italic", align="left")
T(79, 271, "Normalised counts", 31, angle=90)

# B
ov.scatter([180.6], [682.5], size=12, fill_color="black", line_color=None)
ov.scatter([303], [682.5], size=12, marker="square", fill_color=PURPLE, line_color=None)
T(207, 681, "Ctrl", 30, align="left")
T(330, 681, "BI9774", 30, align="left")
T(25, 939, "Normalised gene expression", 26, angle=90)
T(60, 939, "(Fold Ctrl)", 26, angle=90)
for i, s in enumerate(sig_b):
    px = 161 + b_step * (i + .03)
    if s.startswith("p"):
        T(px, 747.6, s, 20)
    else:
        T(px, 747, s, 28)

# C
T(1212, 688, "TCGA - AMPK-Cell Cycle", 32)
T(1247, 745, "p\u2212value = 2.73e\u221205, HR (Q4 vs Q1) = 3.82", 26)
T(974, 928, "DFS", 25, angle=90)
T(1255, 1103, "Time (Months)", 26)
ov.line([1038.6, 1058.8], [1040, 1040], line_color=C1, line_width=5)
ov.line([1176, 1197.5], [1040, 1040], line_color=C2, line_width=5)
ov.line([1342, 1364], [1040, 1040], line_color=C3, line_width=5)
T(1066.4, 1040, "Quartile=1", 21, align="left")
T(1203, 1040, "Quartile=2+3", 21, align="left")
T(1374.8, 1040, "Quartile=4", 21, align="left")

# D
T(281, 1273, "TCGA - AMPK-Cell Cycle", 32)
T(47.7, 1480, "Total score (10 genes)", 25, angle=90)
T(272, 1693, "PPARGC1A", 25, "italic")
T(273, 1355, "R= -0.56,", 26, align="left")
T(273, 1387, "p-value<2.2e-16", 26, align="left")

# E
T(810, 1275, "GSE21034 - AMPK-Cell Cycle", 31.5)
T(776, 1323, "p-value = 0.073, HR (Q4 vs Q1) = 3.302", 26)
T(494, 1499, "DFS", 25, angle=90)
T(780, 1710, "Time (Months)", 26)
ov.line([580, 600], [1617.7, 1617.7], line_color=E1, line_width=2.5)
ov.line([708, 729.5], [1617.7, 1617.7], line_color=E2, line_width=2.5)
ov.line([857, 878], [1617.7, 1617.7], line_color=E3, line_width=2.5)
T(608.7, 1617.7, "Quartile 1", 20, align="left")
T(739, 1617.7, "Quartile 2,3", 20, align="left")
T(884, 1617.7, "Quartile 4", 20, align="left")

# F
T(1311.7, 1178, "GSE21034", 31)
T(1104, 1306, "Expression (Z-score)", 20, angle=90)
for lab, x in zip(f1_groups, [1205.7, 1310, 1426]):
    T(x, 1427.5, lab, 20)
T(1307, 1462, "AMPK-Cell Cycle", 31)
T(1320.7, 1207, "p=<0.001", 17, "italic")
T(1380.7, 1234.7, "p=<0.001", 17, "italic")
T(1251.7, 1266, "p=0.017", 17, "italic")
T(1104, 1637, "Expression (Z-score)", 20, angle=90)
for lab, x in zip(f1_groups, [1216.7, 1314, 1425]):
    T(x, 1739.8, lab, 20)
T(1312.7, 1771, "PPARGC1A", 31, "italic")
T(1315, 1520, "p=<0.001", 17, "italic")
T(1255.7, 1547, "p=<0.001", 17, "italic")
T(1361.7, 1553, "p=0.021", 17, "italic")

# G
T(169, 1795, "GSE35988", 31)
T(11, 1931.7, "Expression (Z-score)", 20, angle=90)
for lab, x in zip(g_groups, [119.6, 213.9, 314.8]):
    T(x, 2041.7, lab, 20)
T(194.7, 2080, "AMPK-Cell Cycle", 31)
T(208, 1840, "p=<0.001", 17, "italic")
T(263, 1862.7, "p=<0.001", 17, "italic")
T(161, 1895, "p=0.021", 17, "italic")
T(392, 1940, "Expression (Z-score)", 20, angle=90)
for lab, x in zip(g_groups, [500, 594.7, 697]):
    T(x, 2041.7, lab, 20)
T(599, 2080, "PPARGC1A", 31, "italic")
T(603, 1830.7, "p=<0.001", 17, "italic")
T(644, 1852.7, "p=0.001", 17, "italic")
T(550, 1881.7, "p=0.027", 17, "italic")

# H
T(921, 1795, "GSE32269", 31)
T(778.5, 1940, "Expression (Z-score)", 20, angle=90)
for lab, x in zip(h_groups, [914, 1049]):
    T(x, 2040, lab, 20)
T(968.5, 2080, "AMPK-Cell Cycle", 31)
T(978, 1862.7, "p=<0.001", 17, "italic")
T(1163, 1940, "Expression (Z-score)", 20, angle=90)
for lab, x in zip(h_groups, [1297, 1430.8]):
    T(x, 2047.7, lab, 20)
T(1359.5, 2080, "PPARGC1A", 31, "italic")
T(1362, 1868, "p=ns", 24, "italic")

figs.append(ov)
root = column(*figs, spacing=0)
root.margin = (0, 0, 0, 0)
open("out.html", "w").write(file_html(root, INLINE))
